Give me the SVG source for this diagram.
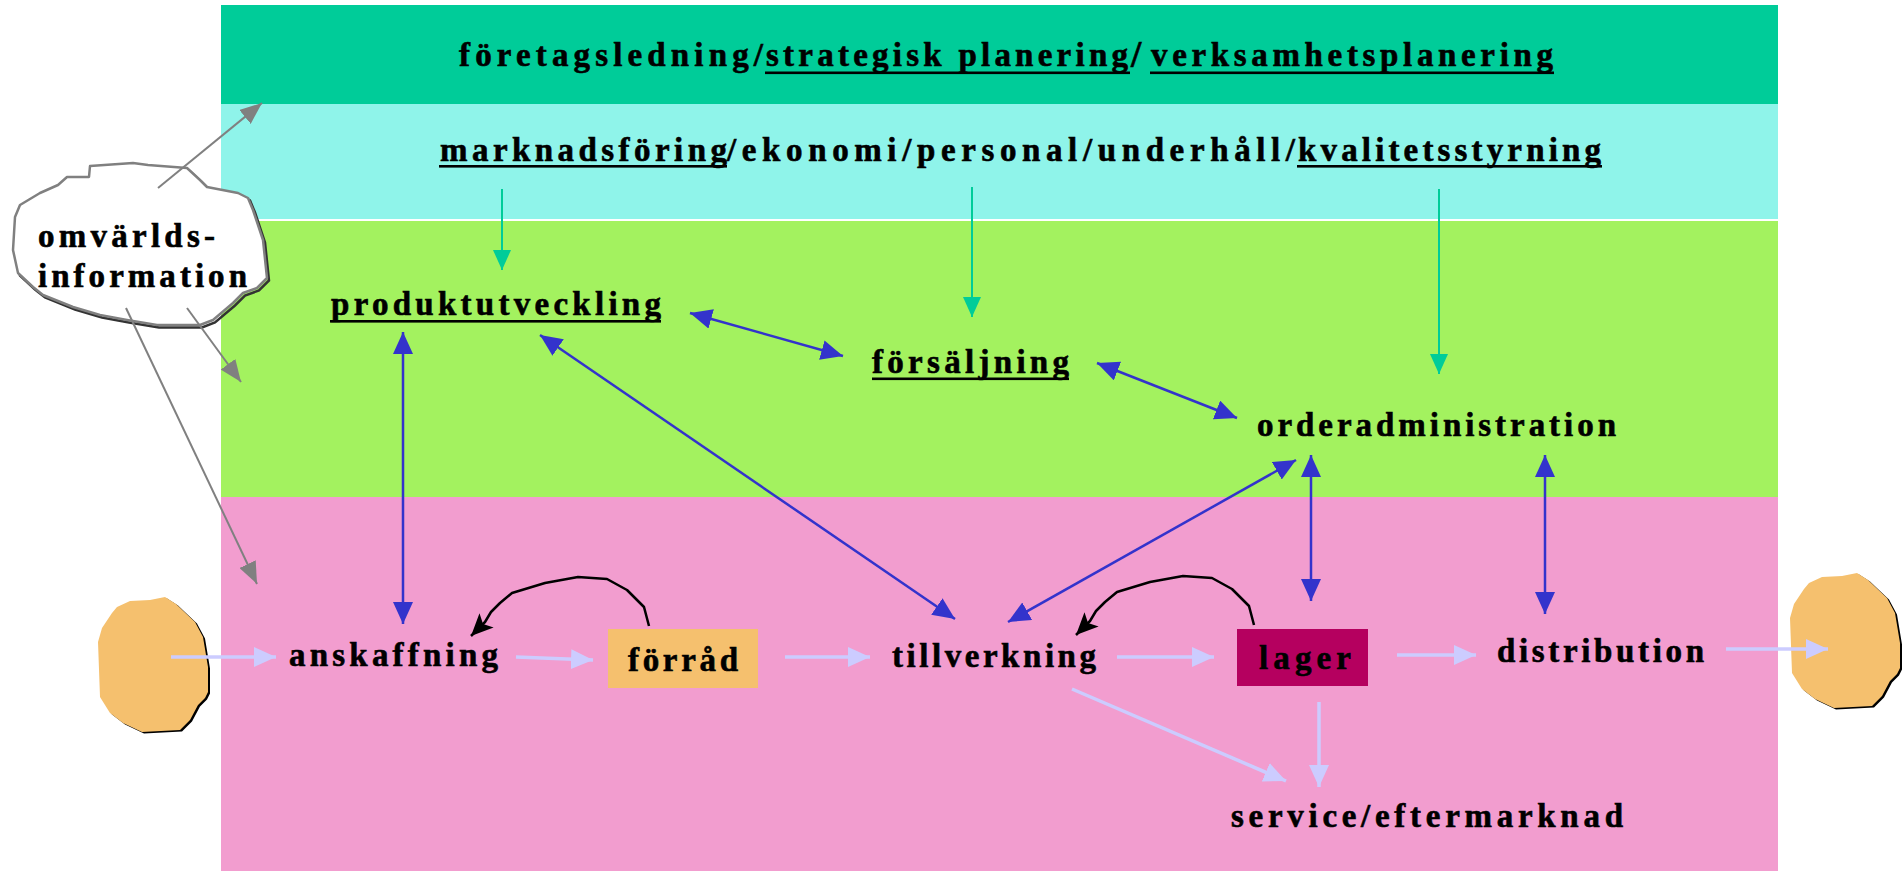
<svg xmlns="http://www.w3.org/2000/svg" width="1903" height="871" viewBox="0 0 1903 871">
<style>
text{font-family:"Liberation Serif","Times New Roman",serif;font-weight:bold;font-size:33px;fill:#000;stroke:#000;stroke-width:0.6}
.ul{fill:#000}
.teal{stroke:#00CC99;stroke-width:2;fill:none}
.gray{stroke:#808080;stroke-width:2;fill:none}
.blue{stroke:#3333CC;stroke-width:2.5;fill:none}
.lav{stroke:#CCCCFF;stroke-width:3.5;fill:none}
.blk{stroke:#000;stroke-width:2.5;fill:none}
</style>
<defs>
<marker id="mTeal" viewBox="0 0 20 18" refX="20" refY="9" markerWidth="20" markerHeight="18" markerUnits="userSpaceOnUse" orient="auto"><path d="M0,0 L20,9 L0,18 z" fill="#00CC99"/></marker>
<marker id="mGray" viewBox="0 0 22 18" refX="22" refY="9" markerWidth="22" markerHeight="18" markerUnits="userSpaceOnUse" orient="auto"><path d="M0,0 L22,9 L0,18 z" fill="#808080"/></marker>
<marker id="mBlue" viewBox="0 0 22 20" refX="22" refY="10" markerWidth="22" markerHeight="20" markerUnits="userSpaceOnUse" orient="auto-start-reverse"><path d="M0,0 L22,10 L0,20 z" fill="#3333CC"/></marker>
<marker id="mLav" viewBox="0 0 22 20" refX="22" refY="10" markerWidth="22" markerHeight="20" markerUnits="userSpaceOnUse" orient="auto"><path d="M0,0 L22,10 L0,20 z" fill="#CCCCFF"/></marker>
<marker id="mBlk" viewBox="0 0 22 20" refX="22" refY="10" markerWidth="22" markerHeight="20" markerUnits="userSpaceOnUse" orient="auto"><path d="M0,0 L22,10 L0,20 L5,10 z" fill="#000"/></marker>
<path id="blob" d="M130,601 L150,600 L165,597 L176,604 L195,622 L203,637 L208,667 L208,692 L205,698 L198,705 L190,720 L180,730 L142,732 L123,723 L110,713 L100,697 L98,642 L102,628 L112,613 L117,607 Z"/>
<path id="cloud" d="M89,177 L90,166 L133,163 L148,165 L187,168 L200,180 L207,187 L238,193 L248,198 L253,210 L263,240 L267,278 L257,288 L243,293 L233,303 L213,320 L200,325 L157,325 L127,320 L100,315 L73,307 L43,295 L33,287 L18,273 L13,250 L15,217 L20,205 L40,193 L58,185 L67,177 Z"/>
</defs>

<g id="bands">
<rect x="221" y="5" width="1557" height="99" fill="#00CC99"/>
<rect x="221" y="104" width="1557" height="115" fill="#8FF4EA"/>
<rect x="221" y="221" width="1557" height="276" fill="#A3F25F"/>
<rect x="221" y="497" width="1557" height="374" fill="#F29DCF"/>
</g>

<g id="node-ledning">
<text x="459" y="66" textLength="304" lengthAdjust="spacing">företagsledning/</text>
<text x="766" y="66" textLength="362" lengthAdjust="spacing">strategisk planering</text>
<text x="1131" y="67" style="font-size:37px">/</text>
<text x="1151" y="66" textLength="402" lengthAdjust="spacing">verksamhetsplanering</text>
<rect class="ul" x="765" y="71.5" width="365" height="2.6"/>
<rect class="ul" x="1150" y="71.5" width="404" height="2.6"/>
</g>

<g id="node-funktioner">
<text x="440" y="161" textLength="287" lengthAdjust="spacing">marknadsföring</text>
<text x="727" y="161" textLength="568" lengthAdjust="spacing">/ekonomi/personal/underhåll/</text>
<text x="1298" y="161" textLength="303" lengthAdjust="spacing">kvalitetsstyrning</text>
<rect class="ul" x="439" y="165" width="288" height="2.6"/>
<rect class="ul" x="1297" y="165" width="305" height="2.6"/>
</g>

<g id="node-omvarld">
<use href="#cloud" transform="translate(2,2.5)" fill="none" stroke="#333" stroke-width="2.5"/>
<use href="#cloud" fill="#fff" stroke="#808080" stroke-width="2.5" stroke-linejoin="round"/>
<text x="38" y="247" textLength="177" lengthAdjust="spacing">omvärlds-</text>
<text x="38" y="287" textLength="209" lengthAdjust="spacing">information</text>
</g>

<g id="node-produktutveckling">
<text x="331" y="315" textLength="330" lengthAdjust="spacing">produktutveckling</text>
<rect class="ul" x="330" y="320" width="331" height="2.6"/>
</g>

<g id="node-forsaljning">
<text x="872" y="373" textLength="197" lengthAdjust="spacing">försäljning</text>
<rect class="ul" x="872" y="377.5" width="197" height="2.6"/>
</g>

<g id="node-orderadministration">
<text x="1257" y="436" textLength="359" lengthAdjust="spacing">orderadministration</text>
</g>

<g id="node-kalla">
<use href="#blob" transform="translate(2,1.5)" fill="#000"/>
<use href="#blob" fill="#F5C06E"/>
</g>

<g id="node-anskaffning">
<text x="289" y="666" textLength="209" lengthAdjust="spacing">anskaffning</text>
</g>

<g id="node-forrad">
<rect x="608" y="629" width="150" height="59" fill="#F5C06E"/>
<text x="628" y="671" textLength="110" lengthAdjust="spacing">förråd</text>
</g>

<g id="node-tillverkning">
<text x="892" y="667" textLength="204" lengthAdjust="spacing">tillverkning</text>
</g>

<g id="node-lager">
<rect x="1237" y="629" width="131" height="57" fill="#B5005F"/>
<text x="1259" y="669" textLength="92" lengthAdjust="spacing">lager</text>
</g>

<g id="node-distribution">
<text x="1497" y="662" textLength="207" lengthAdjust="spacing">distribution</text>
</g>

<g id="node-kund">
<use href="#blob" transform="translate(1694,-22.5)" fill="#000"/>
<use href="#blob" transform="translate(1692,-24)" fill="#F5C06E"/>
</g>

<g id="node-service">
<text x="1231" y="827" textLength="392" lengthAdjust="spacing">service/eftermarknad</text>
</g>

<g id="connectors">
<line class="teal" x1="502" y1="189" x2="502" y2="270" marker-end="url(#mTeal)"/>
<line class="teal" x1="972" y1="187" x2="972" y2="317" marker-end="url(#mTeal)"/>
<line class="teal" x1="1439" y1="189" x2="1439" y2="374" marker-end="url(#mTeal)"/>

<line class="gray" x1="158" y1="188" x2="262" y2="103" marker-end="url(#mGray)"/>
<line class="gray" x1="187" y1="308" x2="241" y2="382" marker-end="url(#mGray)"/>
<line class="gray" x1="126" y1="308" x2="257" y2="584" marker-end="url(#mGray)"/>

<line class="blue" x1="403" y1="332" x2="403" y2="624" marker-start="url(#mBlue)" marker-end="url(#mBlue)"/>
<line class="blue" x1="540" y1="335" x2="955" y2="619" marker-start="url(#mBlue)" marker-end="url(#mBlue)"/>
<line class="blue" x1="690" y1="313" x2="843" y2="356" marker-start="url(#mBlue)" marker-end="url(#mBlue)"/>
<line class="blue" x1="1097" y1="363" x2="1237" y2="418" marker-start="url(#mBlue)" marker-end="url(#mBlue)"/>
<line class="blue" x1="1296" y1="460" x2="1008" y2="622" marker-start="url(#mBlue)" marker-end="url(#mBlue)"/>
<line class="blue" x1="1311" y1="455" x2="1311" y2="601" marker-start="url(#mBlue)" marker-end="url(#mBlue)"/>
<line class="blue" x1="1545" y1="455" x2="1545" y2="614" marker-start="url(#mBlue)" marker-end="url(#mBlue)"/>

<line class="lav" x1="171" y1="657" x2="276" y2="657" marker-end="url(#mLav)"/>
<line class="lav" x1="516" y1="657" x2="593" y2="660" marker-end="url(#mLav)"/>
<line class="lav" x1="785" y1="657" x2="870" y2="657" marker-end="url(#mLav)"/>
<line class="lav" x1="1117" y1="657" x2="1214" y2="657" marker-end="url(#mLav)"/>
<line class="lav" x1="1397" y1="655" x2="1476" y2="655" marker-end="url(#mLav)"/>
<line class="lav" x1="1726" y1="649" x2="1828" y2="649" marker-end="url(#mLav)"/>
<line class="lav" x1="1072" y1="689" x2="1286" y2="781" marker-end="url(#mLav)"/>
<line class="lav" x1="1319" y1="702" x2="1319" y2="787" marker-end="url(#mLav)"/>

<path class="blk" d="M649,626 L644,607 L627,590 L607,579 L578,577 L545,583 L512,593 L500,603 L491,612 L485,622 L471,636" marker-end="url(#mBlk)" stroke-linejoin="round"/>
<path class="blk" d="M649,626 L644,607 L627,590 L607,579 L578,577 L545,583 L512,593 L500,603 L491,612 L485,622 L471,636" transform="translate(605,-1)" marker-end="url(#mBlk)" stroke-linejoin="round"/>
</g>
</svg>
